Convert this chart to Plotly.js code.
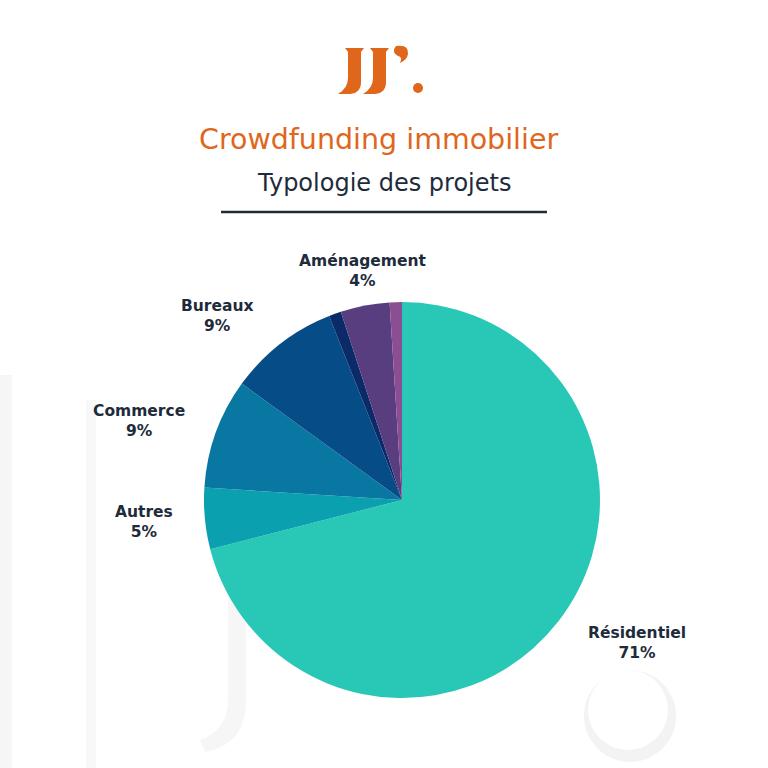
<!DOCTYPE html>
<html>
<head>
<meta charset="utf-8">
<script src="https://cdn.plot.ly/plotly-3.0.1.min.js"></script>
<style>
  html, body { margin: 0; padding: 0; background: #ffffff; }
  #chart { width: 768px; height: 768px; }
</style>
</head>
<body>
<div id="chart"></div>
<script>
// ---- data ----
const categories = ['Résidentiel', 'Autres', 'Commerce', 'Bureaux', 'Autre (non étiqueté 1)', 'Aménagement', 'Autre (non étiqueté 2)'];
const values = [71, 5, 9, 9, 1, 4, 1];
const shownLabels = [true, true, true, true, false, true, false];
const titleText = 'Crowdfunding immobilier';
const subtitleText = 'Typologie des projets';

// ---- style ----
const colors = ['#29C8B6', '#0AA0B0', '#0878A2', '#064C86', '#0B2A68', '#583D7F', '#8C4E93'];
const W = 768, H = 768;
const cx = 402, cy = 500, R = 198;
const textColor = '#1E2B3A';
const orange = '#E0661C';
const fontFam = '"DejaVu Sans", Verdana, sans-serif';
const px = x => x / W;
const py = y => 1 - y / H;

const annotations = [];
const total = values.reduce((a, b) => a + b, 0);
const R1 = 212, pad = 16, boxH = 42;
let cum = 0;
values.forEach((v, i) => {
  const mid = (cum + v / 2) / total * 2 * Math.PI;
  cum += v;
  if (!shownLabels[i]) return;
  const dx = Math.sin(mid), dy = -Math.cos(mid);
  const pct = Math.round(v / total * 100) + '%';
  let x = cx + dx * R1, xanchor = 'center';
  if (dx < -0.3) { x -= pad; xanchor = 'right'; }
  else if (dx > 0.3) { x += pad; xanchor = 'left'; }
  const y = cy + dy * R1 + dy * boxH / 2;
  annotations.push({
    xref: 'paper', yref: 'paper',
    x: px(x), y: py(y),
    xanchor: xanchor, yanchor: 'middle',
    text: '<b>' + categories[i] + '</b><br><b>' + pct + '</b>',
    showarrow: false, align: 'center',
    font: {family: fontFam, size: 15.5, color: textColor}
  });
});

annotations.push({
  xref: 'paper', yref: 'paper', x: px(378), y: py(139),
  xanchor: 'center', yanchor: 'middle', showarrow: false,
  text: titleText,
  font: {family: fontFam, size: 28.5, color: orange}
});
annotations.push({
  xref: 'paper', yref: 'paper', x: px(384), y: py(183),
  xanchor: 'center', yanchor: 'middle', showarrow: false,
  text: subtitleText,
  font: {family: fontFam, size: 24, color: textColor}
});

// path helper: pixel coords -> paper path
function P(cmds) {
  return cmds.map(c => {
    if (typeof c === 'string') return c;
    return px(c[0]).toFixed(5) + ',' + py(c[1]).toFixed(5);
  }).join(' ');
}

const faint = '#f6f6f6';
const shapes = [
  // faint background watermark
  {type: 'rect', xref: 'paper', yref: 'paper', x0: px(0), x1: px(12), y0: py(768), y1: py(375), fillcolor: faint, line: {width: 0}, layer: 'below'},
  {type: 'rect', xref: 'paper', yref: 'paper', x0: px(86), x1: px(96), y0: py(768), y1: py(400), fillcolor: '#f8f8f8', line: {width: 0}, layer: 'below'},
  {type: 'path', xref: 'paper', yref: 'paper', fillcolor: faint, line: {width: 0}, layer: 'below',
   path: P(['M', [228, 420], 'L', [246, 420], 'L', [246, 700], 'Q', [246, 745], [205, 752], 'L', [200, 740], 'Q', [228, 730], [228, 700], 'Z'])},
  {type: 'circle', xref: 'paper', yref: 'paper', x0: px(584), x1: px(676), y0: py(762), y1: py(670), fillcolor: '#f3f3f3', line: {width: 0}, layer: 'below'},
  {type: 'circle', xref: 'paper', yref: 'paper', x0: px(588), x1: px(668), y0: py(750), y1: py(670), fillcolor: '#ffffff', line: {width: 0}, layer: 'below'},
  // separator line
  {type: 'line', xref: 'paper', yref: 'paper', x0: px(221), x1: px(547), y0: py(212), y1: py(212), line: {color: textColor, width: 2.5}},
  // logo stems
  {type: 'path', xref: 'paper', yref: 'paper', fillcolor: orange, line: {width: 0},
   path: P(['M', [345, 48], 'L', [364, 48], 'L', [361, 52], 'L', [361, 82], 'Q', [361, 93], [350, 94], 'L', [338, 94], 'Q', [348, 88], [348, 78], 'L', [348, 52], 'Z'])},
  {type: 'path', xref: 'paper', yref: 'paper', fillcolor: orange, line: {width: 0},
   path: P(['M', [370, 48], 'L', [389, 48], 'L', [386, 52], 'L', [386, 82], 'Q', [386, 93], [375, 94], 'L', [363, 94], 'Q', [373, 88], [373, 78], 'L', [373, 52], 'Z'])},
  // logo teardrop
  {type: 'path', xref: 'paper', yref: 'paper', fillcolor: orange, line: {width: 0},
   path: P(['M', [396, 46], 'Q', [409, 44], [408, 54], 'Q', [407, 60], [400, 63], 'Q', [403, 57], [398, 56], 'Q', [391, 52], [396, 46], 'Z'])},
  // logo dot
  {type: 'circle', xref: 'paper', yref: 'paper', x0: px(413), x1: px(423), y0: py(93), y1: py(83), fillcolor: orange, line: {width: 0}}
];

const trace = {
  type: 'pie',
  labels: categories,
  values: values,
  sort: false,
  direction: 'clockwise',
  rotation: 0,
  textinfo: 'none',
  hoverinfo: 'label+percent',
  marker: {colors: colors, line: {width: 0}},
  domain: {x: [px(cx - R), px(cx + R)], y: [py(cy + R), py(cy - R)]},
  showlegend: false
};

const layout = {
  width: W, height: H,
  margin: {l: 0, r: 0, t: 0, b: 0},
  paper_bgcolor: '#ffffff',
  plot_bgcolor: '#ffffff',
  showlegend: false,
  annotations: annotations,
  shapes: shapes
};

Plotly.newPlot('chart', [trace], layout, {displayModeBar: false, staticPlot: true});
</script>
</body>
</html>
